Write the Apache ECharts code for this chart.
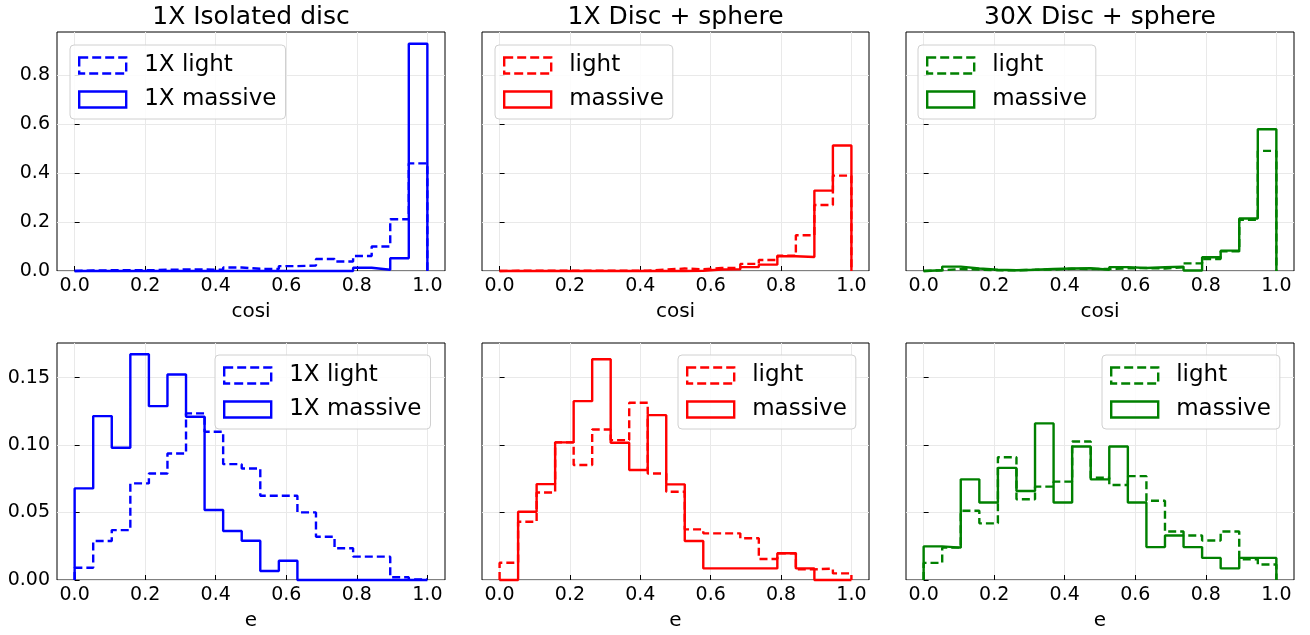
<!DOCTYPE html>
<html><head><meta charset="utf-8">
<script src="https://cdn.jsdelivr.net/npm/echarts@6/dist/echarts.min.js"></script>
<style>html,body{margin:0;padding:0;background:#fff}#c{width:1310px;height:635px}</style>
</head><body><div id="c"></div>
<script>
// ---- data ----
const NBINS = 19; // histogram bins over [0, 1]
const xTicks = [0, 0.2, 0.4, 0.6, 0.8, 1.0];
const yTicksTop = [0, 0.2, 0.4, 0.6, 0.8];
const yTicksBottom = [0, 0.05, 0.10, 0.15];
const titles = ['1X Isolated disc', '1X Disc + sphere', '30X Disc + sphere'];
const xNames = ['cosi', 'e'];
const legendLabels = [['1X light', '1X massive'], ['light', 'massive'], ['light', 'massive']];
const colors = ['#0000ff', '#ff0000', '#008000'];

const cosiLight1   = [0.002,0.003,0.003,0.003,0.005,0.006,0.006,0.005,0.014,0.009,0.008,0.020,0.022,0.049,0.039,0.061,0.100,0.211,0.439];
const cosiMassive1 = [0,0,0,0,0,0,0,0,0,0,0,0,0,0,0,0.013,0.005,0.052,0.927];
const cosiLight2   = [0.001,0.001,0.001,0.001,0.001,0.001,0.001,0.001,0.006,0.010,0.007,0.012,0.012,0.029,0.045,0.062,0.146,0.269,0.389];
const cosiMassive2 = [0,0,0,0,0,0,0,0,0,0,0.001,0.006,0.007,0.016,0.026,0.060,0.057,0.328,0.512];
const cosiLight3   = [0.003,0.008,0.006,0.003,0.003,0.005,0.006,0.009,0.008,0.008,0.011,0.012,0.010,0.015,0.031,0.049,0.080,0.209,0.490];
const cosiMassive3 = [0.003,0.018,0.010,0.005,0.003,0.005,0.008,0.010,0.011,0.005,0.016,0.012,0.015,0.018,0.002,0.056,0.083,0.214,0.578];

const eLight1   = [0.0091,0.0289,0.0370,0.0716,0.0790,0.0938,0.1235,0.1099,0.0859,0.0827,0.0625,0.0625,0.0501,0.0321,0.0235,0.0173,0.0173,0.0020,0.0005];
const eMassive1 = [0.0679,0.1215,0.0980,0.1674,0.1289,0.1523,0.1210,0.0519,0.0363,0.0291,0.0067,0.0143,0,0,0,0,0,0,0];
const eLight2   = [0.0128,0.0432,0.0649,0.1020,0.0852,0.1116,0.1037,0.1314,0.0790,0.0654,0.0375,0.0346,0.0346,0.0309,0.0156,0.0198,0.0079,0.0084,0.0049];
const eMassive2 = [0,0.0506,0.0711,0.1020,0.1326,0.1637,0.1017,0.0815,0.1222,0.0709,0.0289,0.0086,0.0086,0.0086,0.0086,0.0198,0.0086,0,0];
const eLight3   = [0.0127,0.0240,0.0513,0.0420,0.0910,0.0599,0.0692,0.0729,0.1027,0.0758,0.0704,0.0770,0.0587,0.0359,0.0330,0.0293,0.0359,0.0154,0.0115];
const eMassive3 = [0.0249,0.0240,0.0746,0.0575,0.0831,0.0660,0.1161,0.0575,0.0990,0.0746,0.0990,0.0575,0.0244,0.0330,0.0244,0.0164,0.0086,0.0164,0.0164];

const panels = [
  [cosiLight1, cosiMassive1], [cosiLight2, cosiMassive2], [cosiLight3, cosiMassive3],
  [eLight1, eMassive1], [eLight2, eMassive2], [eLight3, eMassive3]
];

// ---- layout ----
const FONT = 'DejaVu Sans';
const colLeft = [57, 482, 906], colWidth = [388, 387, 388];
const rowTop = [32, 343], rowHeight = [239, 237];
const rowYMax = [0.975, 0.1757];
const rowYTicks = [yTicksTop, yTicksBottom];
const rowYDec = [1, 2];

function stepPoints(vals) {
  const pts = [[0, 0]];
  vals.forEach((v, i) => { pts.push([i / NBINS, v]); pts.push([(i + 1) / NBINS, v]); });
  pts.push([1, 0]);
  return pts;
}

const grid = [], xAxis = [], yAxis = [], series = [], legend = [], title = [];
const nameMap = {};
for (let p = 0; p < 6; p++) {
  const r = Math.floor(p / 3), c = p % 3;
  grid.push({ left: colLeft[c], top: rowTop[r], width: colWidth[c], height: rowHeight[r],
    show: true, borderColor: '#000', borderWidth: 1, backgroundColor: 'transparent', containLabel: false });
  xAxis.push({ type: 'value', gridIndex: p, min: -0.05, max: 1.05,
    name: xNames[r], nameLocation: 'middle', nameGap: 31,
    nameTextStyle: { fontFamily: FONT, fontSize: 20, color: '#000' },
    axisLine: { show: false },
    axisTick: { show: true, inside: true, length: 5, lineStyle: { color: '#000', width: 1 }, customValues: xTicks },
    axisLabel: { show: true, customValues: xTicks, margin: 6, fontFamily: FONT, fontSize: 19, color: '#000',
      formatter: v => v.toFixed(1) },
    splitLine: { show: true, lineStyle: { color: '#e9e9e9', width: 1 } } });
  yAxis.push({ type: 'value', gridIndex: p, min: 0, max: rowYMax[r],
    axisLine: { show: false },
    axisTick: { show: true, inside: true, length: 5, lineStyle: { color: '#000', width: 1 }, customValues: rowYTicks[r] },
    axisLabel: { show: c === 0, customValues: rowYTicks[r], margin: 7, fontFamily: FONT, fontSize: 19, color: '#000',
      formatter: v => v.toFixed(rowYDec[r]) },
    splitLine: { show: true, lineStyle: { color: '#e9e9e9', width: 1 } } });
  const col = colors[c];
  const names = [];
  panels[p].forEach((vals, k) => {
    const id = legendLabels[c][k] + '#' + p;
    nameMap[id] = legendLabels[c][k];
    names.push({ name: id, itemStyle: { color: 'rgba(0,0,0,0)', borderColor: col, borderWidth: 2.4,
      borderType: k === 0 ? [9, 4] : 'solid' } });
    series.push({ type: 'line', name: id, xAxisIndex: p, yAxisIndex: p, data: stepPoints(vals),
      symbol: 'none', clip: false, animation: false, z: 2 + k,
      lineStyle: { color: col, width: 2.4, type: k === 0 ? [8, 4] : 'solid' }, itemStyle: { color: col } });
  });
  const legTop = r === 0 ? 45 : 355;
  const legLeft = [[70, 495, 918], [215, 678, 1102]][r][c];
  legend.push({ data: names, orient: 'vertical', left: legLeft, top: legTop, icon: 'rect',
    itemWidth: 47, itemHeight: 16, itemGap: 11, padding: [9, 9, 8, 8],
    backgroundColor: 'rgba(255,255,255,0.85)', borderColor: '#d0d0d0', borderWidth: 1, borderRadius: 4,
    selectedMode: false,
    formatter: n => nameMap[n],
    textStyle: { fontFamily: FONT, fontSize: 23, color: '#000', lineHeight: 23, padding: [0, 0, 0, 13] } });
  if (r === 0) {
    title.push({ text: titles[c], left: colLeft[c] + colWidth[c] / 2, top: 5, textAlign: 'center', padding: 0,
      textStyle: { fontFamily: FONT, fontSize: 25, fontWeight: 'normal', color: '#000' } });
  }
}

const chart = echarts.init(document.getElementById('c'), null, { renderer: 'canvas' });
chart.setOption({ animation: false, backgroundColor: '#fff', title, grid, xAxis, yAxis, series, legend });
</script></body></html>
